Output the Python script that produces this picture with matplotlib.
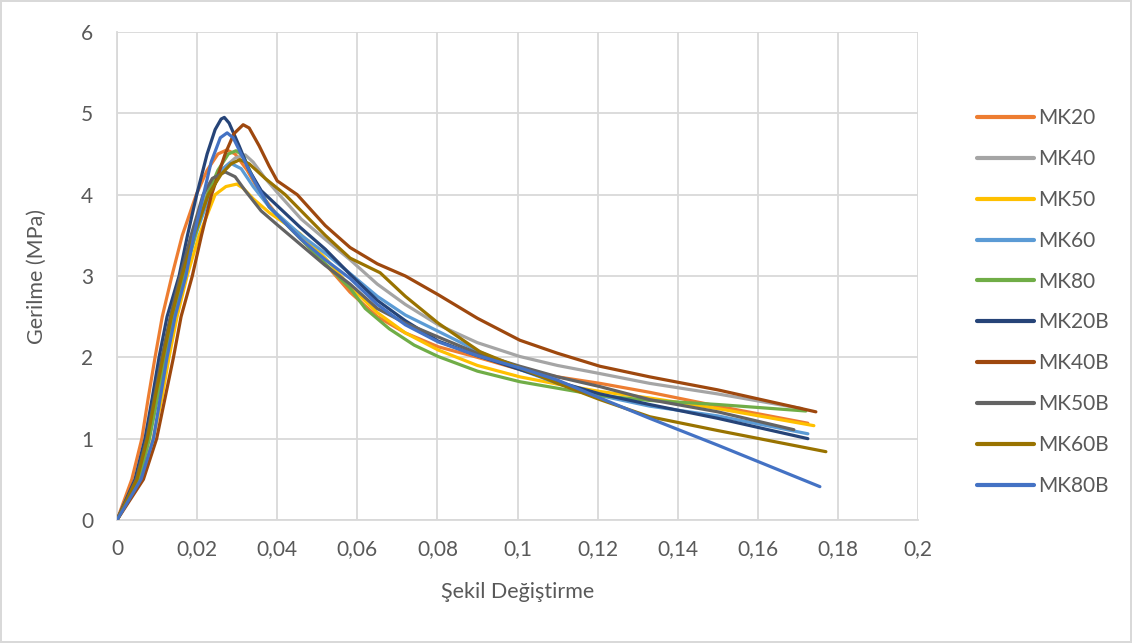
import matplotlib
matplotlib.use('Agg')
import matplotlib.pyplot as plt

plt.rcParams['font.family'] = ['Lato', 'DejaVu Sans']

# Seri isimleri ve renkler (Excel Office teması)
series_names = ['MK20', 'MK40', 'MK50', 'MK60', 'MK80',
                'MK20B', 'MK40B', 'MK50B', 'MK60B', 'MK80B']
series_colors = ['#ED7D31', '#A5A5A5', '#FFC000', '#5B9BD5', '#70AD47',
                 '#264478', '#9E480E', '#636363', '#997300', '#4472C4']

# Şekil değiştirme (x) ve gerilme (y) değerleri
mk20_x = [0, 0.0037, 0.0062, 0.0078, 0.0095, 0.0113, 0.0137, 0.0163, 0.0198, 0.0225, 0.0252, 0.0274, 0.0295,
          0.0325, 0.036, 0.04, 0.046, 0.052, 0.0582, 0.065, 0.072, 0.0802, 0.09, 0.1006, 0.11, 0.1206, 0.133,
          0.15, 0.1725]
mk20_y = [0, 0.5, 1.0, 1.5, 2.0, 2.5, 3.0, 3.5, 4.0, 4.3, 4.5, 4.55, 4.5,
          4.3, 4.0, 3.75, 3.45, 3.15, 2.8, 2.5, 2.3, 2.13, 2.0, 1.85, 1.76, 1.68, 1.57,
          1.4, 1.19]

mk40_x = [0, 0.0052, 0.0078, 0.0097, 0.0117, 0.0138, 0.0163, 0.019, 0.0222, 0.026, 0.0295, 0.032, 0.034,
          0.037, 0.0405, 0.046, 0.052, 0.0582, 0.065, 0.072, 0.0802, 0.09, 0.1006, 0.11, 0.1206, 0.133,
          0.15, 0.171]
mk40_y = [0, 0.5, 1.0, 1.5, 2.0, 2.5, 3.0, 3.5, 4.0, 4.3, 4.45, 4.49, 4.4,
          4.2, 4.0, 3.7, 3.45, 3.2, 2.9, 2.65, 2.4, 2.18, 2.01, 1.9, 1.8, 1.68,
          1.55, 1.37]

mk50_x = [0, 0.006, 0.009, 0.0112, 0.013, 0.015, 0.0175, 0.0205, 0.0245, 0.0272, 0.0299, 0.0315, 0.034,
          0.038, 0.0457, 0.052, 0.0582, 0.065, 0.072, 0.0802, 0.09, 0.1006, 0.11, 0.1206, 0.133, 0.15, 0.174]
mk50_y = [0, 0.5, 1.0, 1.5, 2.0, 2.5, 3.0, 3.5, 4.0, 4.1, 4.13, 4.08, 3.95,
          3.78, 3.52, 3.22, 2.87, 2.55, 2.3, 2.09, 1.9, 1.76, 1.67, 1.58, 1.5, 1.37, 1.16]

mk60_x = [0, 0.0054, 0.008, 0.01, 0.012, 0.014, 0.0167, 0.0196, 0.0232, 0.026, 0.0282, 0.031, 0.034,
          0.038, 0.046, 0.052, 0.0582, 0.065, 0.072, 0.0802, 0.09, 0.1006, 0.11, 0.1206, 0.133, 0.15, 0.1725]
mk60_y = [0, 0.5, 1.0, 1.5, 2.0, 2.5, 3.0, 3.5, 4.0, 4.3, 4.39, 4.32, 4.1,
          3.85, 3.5, 3.28, 3.03, 2.75, 2.52, 2.32, 2.08, 1.85, 1.68, 1.53, 1.4, 1.28, 1.06]

mk80_x = [0, 0.0055, 0.0081, 0.0101, 0.0121, 0.0142, 0.0168, 0.0195, 0.0226, 0.0252, 0.0278, 0.0297, 0.0315,
          0.034, 0.038, 0.046, 0.052, 0.0582, 0.062, 0.068, 0.0742, 0.0802, 0.09, 0.1006, 0.11, 0.1206, 0.133,
          0.15, 0.172]
mk80_y = [0, 0.5, 1.0, 1.5, 2.0, 2.5, 3.0, 3.5, 4.0, 4.3, 4.5, 4.54, 4.48,
          4.2, 3.85, 3.45, 3.15, 2.85, 2.6, 2.35, 2.15, 2.01, 1.83, 1.7, 1.62, 1.53, 1.47,
          1.42, 1.34]

mk20b_x = [0, 0.0045, 0.007, 0.0088, 0.0105, 0.0125, 0.0155, 0.0176, 0.0199, 0.0225, 0.0245, 0.026, 0.0268,
           0.028, 0.0305, 0.033, 0.036, 0.0457, 0.052, 0.0582, 0.065, 0.072, 0.0802, 0.09, 0.1006, 0.11,
           0.1206, 0.133, 0.15, 0.1725]
mk20b_y = [0, 0.5, 1.0, 1.5, 2.0, 2.5, 3.0, 3.5, 4.0, 4.5, 4.8, 4.93, 4.95,
           4.88, 4.6, 4.3, 4.05, 3.6, 3.33, 3.02, 2.7, 2.45, 2.2, 2.02, 1.85, 1.7,
           1.55, 1.42, 1.25, 1.0]

mk40b_x = [0, 0.0066, 0.0099, 0.012, 0.0141, 0.016, 0.0188, 0.0211, 0.0236, 0.027, 0.0292, 0.0315, 0.033,
           0.0355, 0.038, 0.04, 0.045, 0.052, 0.0582, 0.065, 0.072, 0.0802, 0.09, 0.1006, 0.11, 0.1206,
           0.133, 0.15, 0.1745]
mk40b_y = [0, 0.5, 1.0, 1.5, 2.0, 2.5, 3.0, 3.5, 4.0, 4.5, 4.75, 4.86, 4.82,
           4.6, 4.35, 4.17, 4.0, 3.62, 3.35, 3.15, 3.0, 2.77, 2.48, 2.21, 2.05, 1.89,
           1.76, 1.6, 1.33]

mk50b_x = [0, 0.0048, 0.0074, 0.0093, 0.0112, 0.0133, 0.0158, 0.0185, 0.0215, 0.0238, 0.027, 0.0295, 0.032,
           0.036, 0.04, 0.046, 0.052, 0.0582, 0.065, 0.072, 0.0802, 0.09, 0.1006, 0.11, 0.1206, 0.133, 0.15,
           0.169]
mk50b_y = [0, 0.5, 1.0, 1.5, 2.0, 2.5, 3.0, 3.5, 4.0, 4.2, 4.28, 4.22, 4.05,
           3.8, 3.63, 3.38, 3.13, 2.9, 2.6, 2.42, 2.25, 2.05, 1.89, 1.76, 1.64, 1.48, 1.33,
           1.11]

mk60b_x = [0, 0.005, 0.0076, 0.0095, 0.0115, 0.0136, 0.0162, 0.0192, 0.0228, 0.026, 0.0285, 0.0307, 0.033,
           0.037, 0.042, 0.046, 0.052, 0.0582, 0.0657, 0.072, 0.0802, 0.0906, 0.1006, 0.11, 0.1206, 0.133,
           0.15, 0.177]
mk60b_y = [0, 0.5, 1.0, 1.5, 2.0, 2.5, 3.0, 3.5, 4.0, 4.25, 4.38, 4.43, 4.38,
           4.2, 4.0, 3.8, 3.5, 3.22, 3.04, 2.75, 2.42, 2.07, 1.87, 1.68, 1.48, 1.27,
           1.1, 0.84]

mk80b_x = [0, 0.006, 0.0091, 0.0108, 0.0125, 0.0145, 0.0172, 0.0192, 0.0216, 0.0235, 0.0258, 0.0275, 0.029,
           0.0315, 0.0345, 0.038, 0.046, 0.052, 0.0582, 0.065, 0.072, 0.0802, 0.09, 0.1006, 0.11, 0.1206,
           0.133, 0.15, 0.1755]
mk80b_y = [0, 0.5, 1.0, 1.5, 2.0, 2.5, 3.0, 3.5, 4.0, 4.4, 4.7, 4.76, 4.7,
           4.45, 4.15, 3.85, 3.45, 3.2, 2.97, 2.65, 2.4, 2.19, 2.02, 1.87, 1.72, 1.5,
           1.25, 0.92, 0.41]

xs = [mk20_x, mk40_x, mk50_x, mk60_x, mk80_x, mk20b_x, mk40b_x, mk50b_x, mk60b_x, mk80b_x]
ys = [mk20_y, mk40_y, mk50_y, mk60_y, mk80_y, mk20b_y, mk40b_y, mk50b_y, mk60b_y, mk80b_y]

x_ticks = [0, 0.02, 0.04, 0.06, 0.08, 0.1, 0.12, 0.14, 0.16, 0.18, 0.2]
x_tick_labels = ['0', '0,02', '0,04', '0,06', '0,08', '0,1', '0,12', '0,14', '0,16', '0,18', '0,2']
y_ticks = [0, 1, 2, 3, 4, 5, 6]

text_color = '#595959'
grid_color = '#d9d9d9'

fig = plt.figure(figsize=(11.32, 6.43), dpi=100)
fig.patch.set_edgecolor(grid_color)
fig.patch.set_linewidth(1.5)
ax = fig.add_axes([117 / 1132, 1 - 520 / 643, (918 - 117) / 1132, (520 - 32) / 643])

for x, y, name, c in zip(xs, ys, series_names, series_colors):
    ax.plot(x, y, color=c, linewidth=2.3, label=name, solid_capstyle='round',
            solid_joinstyle='round', zorder=3)

ax.set_xlim(0, 0.2)
ax.set_ylim(0, 6)
ax.set_xticks(x_ticks)
ax.set_xticklabels(x_tick_labels)
ax.set_yticks(y_ticks)
ax.grid(True, color=grid_color, linewidth=1.3, zorder=0)
ax.set_axisbelow(True)
for s in ['top', 'right']:
    ax.spines[s].set_visible(False)
for s in ['left', 'bottom']:
    ax.spines[s].set_color(grid_color)
    ax.spines[s].set_linewidth(1.3)
ax.tick_params(length=0, labelsize=15, colors=text_color)
ax.tick_params(axis='x', pad=14)
ax.tick_params(axis='y', pad=17)

ax.set_xlabel('Şekil Değiştirme', fontsize=15.5, color=text_color, labelpad=16)
ax.set_ylabel('Gerilme (MPa)', fontsize=15.5, color=text_color, labelpad=25)

leg = fig.legend(loc='upper left', bbox_to_anchor=(969 / 1132, 1 - 100 / 643), frameon=False,
                 fontsize=15, labelspacing=1.0, handlelength=2.7, handletextpad=0.2,
                 borderaxespad=0, labelcolor=text_color)
for line in leg.get_lines():
    line.set_linewidth(3)

fig.savefig('out.png', dpi=100, edgecolor=fig.get_edgecolor())
